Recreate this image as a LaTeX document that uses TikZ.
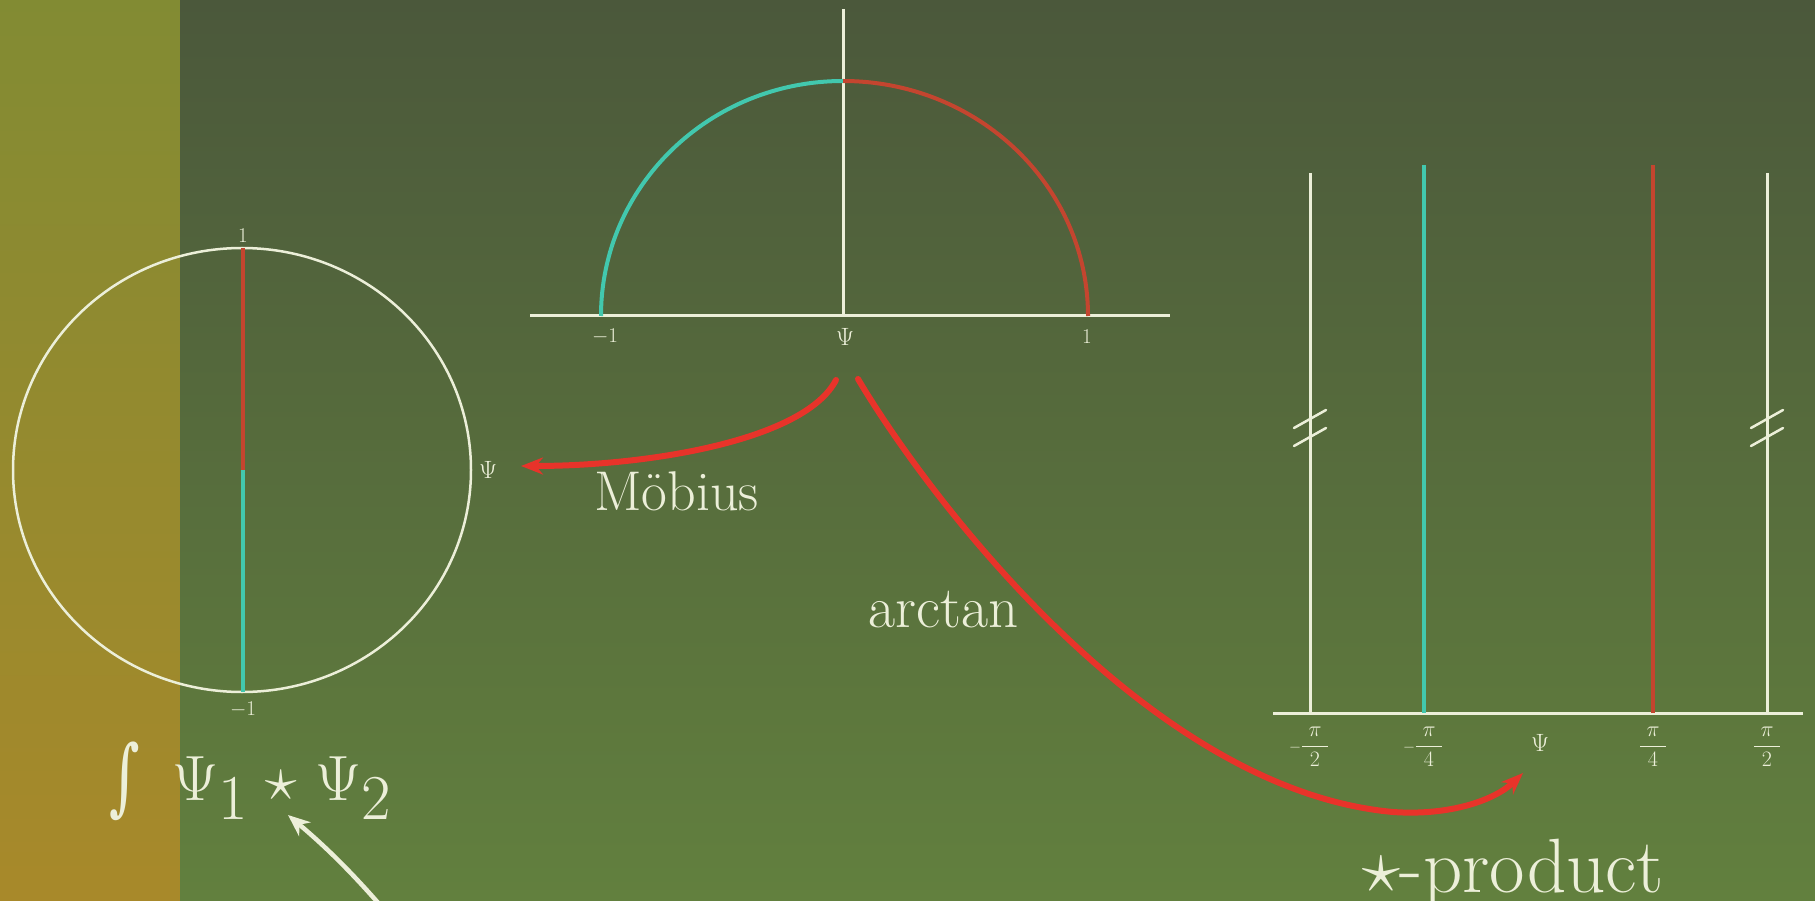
\RequirePackage{fix-cm}
\documentclass[tikz,border=0pt]{standalone}
\usepackage{fontspec}
\newfontfamily\djs{DejaVu Serif}
\usetikzlibrary{arrows.meta}
\definecolor{bgtop}{HTML}{4B583B}
\definecolor{bgbot}{HTML}{62803E}
\definecolor{striptop}{HTML}{828B33}
\definecolor{stripbot}{HTML}{A8892A}
\definecolor{cream}{HTML}{ECEFD9}
\definecolor{tealc}{HTML}{42C8AE}
\definecolor{redc}{HTML}{C4452F}
\definecolor{arrowred}{HTML}{E8332A}
\newcommand{\fsz}[1]{\fontsize{#1}{#1}\selectfont}
\newcommand{\dfr}[2]{{\displaystyle\frac{#1}{#2}}}
\begin{document}
\begin{tikzpicture}[x=1pt,y=-1pt,
  lbl/.style={text=cream, inner sep=0pt, font=\fsz{21}},
  psilbl/.style={text=cream, inner sep=0pt, font=\fsz{25}},
  fraclbl/.style={text=cream, inner sep=0pt, font=\fsz{22}},
  axisline/.style={draw=cream, line width=3pt},
  tealline/.style={draw=tealc, line width=4.5pt},
  redline/.style={draw=redc, line width=4.5pt},
  maparrow/.style={draw=arrowred, line width=6pt, line cap=round, -{Stealth[length=22pt,width=17pt]}},
  whitearrow/.style={draw=cream, line width=4.5pt, -{Stealth[length=22pt,width=18pt,inset=7pt]}},
  breakmark/.style={draw=cream, line width=2.5pt, line cap=round}]
\clip (0,0) rectangle (1815,901);
% background
\shade[top color=striptop, bottom color=stripbot] (0,0) rectangle (180,901);
\shade[top color=bgtop, bottom color=bgbot] (180,0) rectangle (1815,901);

% ---------- circle (left) ----------
\draw[cream, line width=2.5pt] (242,470) ellipse[x radius=229pt, y radius=222pt];
\coordinate (ctop) at (243,248);
\coordinate (cmid) at (243,470);
\coordinate (cbot) at (243,692);
\draw[redline] (ctop) -- (cmid);
\draw[tealline] (cmid) -- (cbot);
\node[lbl] (c1) at (243,236) {1};
\node[lbl] (cm1) at (243,710) {$-1$};
\node[psilbl] (cpsi) at (488,470) {$\Psi$};

% ---------- semicircle (top middle) ----------
\coordinate (sl) at (601,316);
\coordinate (sr) at (1088,316);
\coordinate (stop) at (843,81);
\draw[axisline] (530,316) -- (1170,316);
\draw[axisline] (843,9) -- (843,316);
\draw[tealline, line width=4pt] (sl) arc[start angle=180, end angle=90, x radius=242pt, y radius=235pt];
\draw[redline, line width=4pt] (stop) arc[start angle=90, end angle=0, x radius=245pt, y radius=235pt];
\node[lbl] (sm1) at (605,337) {$-1$};
\node[psilbl] (spsi) at (845,337) {$\Psi$};
\node[lbl] (s1) at (1087,337) {1};

% ---------- right plot ----------
\draw[axisline] (1273,713) -- (1803,713);
\draw[axisline] (1310,173) -- (1310,713);
\draw[axisline] (1767,173) -- (1767,713);
\draw[tealline, line width=4pt] (1424,165) -- (1424,713);
\draw[redline, line width=4pt] (1653,165) -- (1653,713);
\foreach \xx in {1310,1767}{
  \draw[breakmark] (\xx-16,428) -- (\xx+16,410);
  \draw[breakmark] (\xx-16,446) -- (\xx+16,428);
}
\node[fraclbl] (rm2) at (1309,747) {${\scriptstyle -}\dfr{\;\pi\;}{\;2\;}$};
\node[fraclbl] (rm4) at (1423,747) {${\scriptstyle -}\dfr{\;\pi\;}{\;4\;}$};
\node[psilbl] (rpsi) at (1540,743) {$\Psi$};
\node[fraclbl] (rp4) at (1653,747) {$\dfr{\;\pi\;}{\;4\;}$};
\node[fraclbl] (rp2) at (1767,747) {$\dfr{\;\pi\;}{\;2\;}$};

% ---------- maps ----------
\coordinate (mstart) at (836,380);
\coordinate (mend) at (521,466);
\coordinate (astart) at (858,379);
\coordinate (abot) at (1393,812);
\coordinate (aend) at (1523,773);
\draw[maparrow] (mstart) .. controls (805,440) and (650,466) .. (mend);
\draw[maparrow] (astart) .. controls (930,500) and (1150,790) .. (abot)
   .. controls (1450,816) and (1495,800) .. (aend);
\node[text=cream, inner sep=0pt, font=\fsz{56}, anchor=base west] (mob) at (594,510) {Möbius};
\node[text=cream, inner sep=0pt, font=\fsz{59}, anchor=base west] (arc) at (868,627) {arctan};
\node[text=cream, inner sep=0pt, font=\fsz{77}, anchor=base west] (star) at (1362,892) {$\star$-product};

% ---------- integral ----------
\begin{scope}[shift={(125,781)}, xscale=0.7]
  \node[text=cream, inner sep=0pt, font={\djs\fsz{84}}, transform shape] (intsign) at (0,0) {∫};
\end{scope}
\node[text=cream, inner sep=0pt, font=\fsz{64}, anchor=base west] (integ) at (172,800)
  {$\Psi_{\textstyle 1}\mkern5mu{\star}\mkern5mu\Psi_{\textstyle 2}$};
\coordinate (wstart) at (380,905);
\coordinate (wend) at (288,815);
\draw[whitearrow] (wstart) .. controls (345,865) and (320,842) .. (wend);
\end{tikzpicture}
\end{document}
